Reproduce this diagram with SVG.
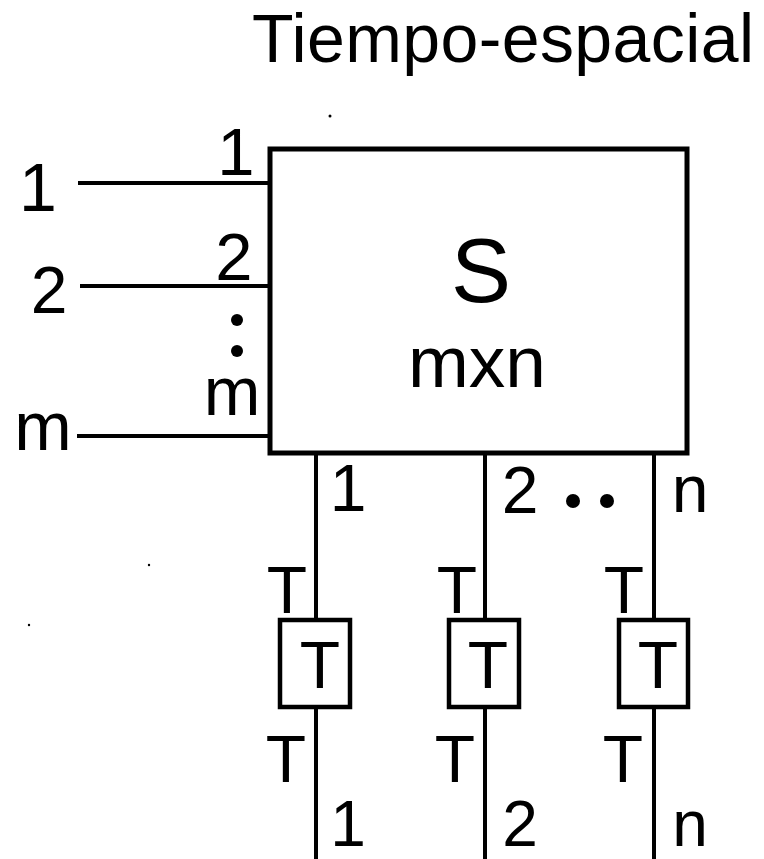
<svg xmlns="http://www.w3.org/2000/svg" width="764" height="859" viewBox="0 0 764 859">
<style>
.t{font-family:"Liberation Sans",Arial,sans-serif;fill:#000;text-anchor:middle}
.ln{stroke:#000;stroke-width:4;fill:none}
.bx{stroke:#000;stroke-width:5;fill:#fff}
.sb{stroke:#000;stroke-width:4.5;fill:#fff}
</style>
<rect width="764" height="859" fill="#fff"/>
<text class="t" x="252" y="62" font-size="68" textLength="502" lengthAdjust="spacing" style="text-anchor:start">Tiempo-espacial</text>
<g id="connectors">
<line class="ln" x1="78" y1="183" x2="270" y2="183"/>
<line class="ln" x1="80" y1="286" x2="270" y2="286"/>
<line class="ln" x1="77" y1="436" x2="270" y2="436"/>
<line class="ln" x1="316" y1="453" x2="316" y2="620"/>
<line class="ln" x1="316" y1="707" x2="316" y2="859"/>
<line class="ln" x1="485" y1="453" x2="485" y2="620"/>
<line class="ln" x1="485" y1="707" x2="485" y2="859"/>
<line class="ln" x1="654" y1="453" x2="654" y2="620"/>
<line class="ln" x1="654" y1="707" x2="654" y2="859"/>
</g>
<g id="switch">
<rect class="bx" x="270" y="149" width="417" height="304"/>
<text class="t" x="481" y="302" font-size="90">S</text>
<text class="t" x="477" y="387" font-size="73">mxn</text>
</g>
<g id="inputs">
<text class="t" x="38" y="211" font-size="68">1</text>
<text class="t" x="49" y="313" font-size="66">2</text>
<text class="t" x="43" y="450" font-size="69">m</text>
<text class="t" x="236" y="175" font-size="67">1</text>
<text class="t" x="234" y="280" font-size="67">2</text>
<text class="t" x="232" y="415" font-size="68">m</text>
<circle cx="237" cy="320" r="6"/>
<circle cx="237" cy="351" r="6"/>
</g>
<g id="outputs">
<text class="t" x="348" y="511" font-size="66">1</text>
<text class="t" x="520" y="513" font-size="66">2</text>
<circle cx="573" cy="501" r="7"/>
<circle cx="607" cy="501" r="7"/>
<text class="t" x="690" y="512" font-size="66">n</text>
<text class="t" x="348" y="846" font-size="64">1</text>
<text class="t" x="520" y="846" font-size="64">2</text>
<text class="t" x="690" y="846" font-size="64">n</text>
</g>
<g id="T1">
<text class="t" x="287" y="613" font-size="66">T</text>
<rect class="sb" x="280" y="620" width="70" height="87"/>
<text class="t" x="320" y="688" font-size="66">T</text>
<text class="t" x="286" y="782" font-size="66">T</text>
</g>
<g id="T2">
<text class="t" x="457" y="613" font-size="66">T</text>
<rect class="sb" x="449" y="620" width="70" height="87"/>
<text class="t" x="488" y="688" font-size="66">T</text>
<text class="t" x="455" y="782" font-size="66">T</text>
</g>
<g id="T3">
<text class="t" x="624" y="613" font-size="66">T</text>
<rect class="sb" x="619" y="620" width="69" height="87"/>
<text class="t" x="658" y="688" font-size="66">T</text>
<text class="t" x="623" y="782" font-size="66">T</text>
</g>
<circle cx="330" cy="116" r="1.5"/>
<circle cx="149" cy="565" r="1.2"/>
<circle cx="29" cy="625" r="1.2"/>
</svg>
